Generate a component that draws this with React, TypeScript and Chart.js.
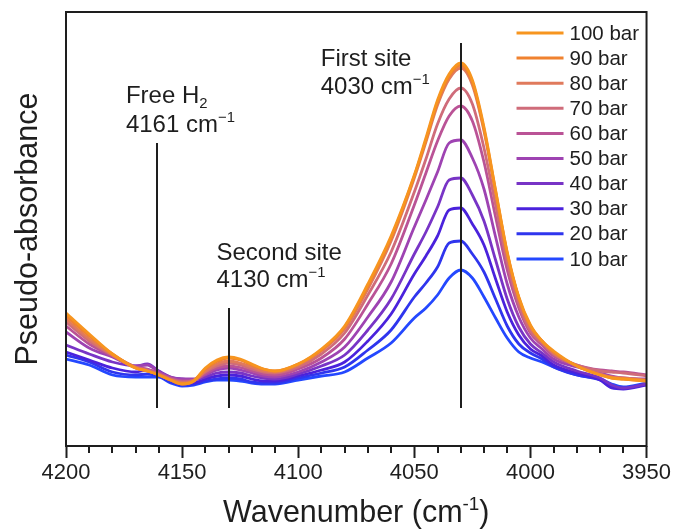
import { useEffect, useRef } from 'react';
import { Chart, registerables } from 'chart.js';

Chart.register(...registerables);

const FONT = "'Liberation Sans', Arial, Helvetica, sans-serif";
const INK = '#1e1e1e';

// Wavenumber grid (cm^-1)
const WAVENUMBERS = [4200, 4190, 4180, 4170, 4165, 4160, 4155, 4150, 4145, 4140, 4135, 4130, 4125, 4120, 4115, 4110, 4100, 4090, 4080, 4070, 4060, 4050, 4045, 4040, 4035, 4030, 4025, 4020, 4015, 4010, 4005, 4000, 3995, 3990, 3980, 3970, 3965, 3960, 3950];

const PRESSURE_LABELS = ['100 bar', '90 bar', '80 bar', '70 bar', '60 bar', '50 bar', '40 bar', '30 bar', '20 bar', '10 bar'];
const PRESSURE_COLORS = ['#F7951F', '#F0822F', '#E07A5C', '#CF6C7A', '#BA5396', '#9E43B2', '#7834C6', '#4A22DC', '#2F35EE', '#2448FF'];

// Pseudo-absorbance (arbitrary units)
const BAR100 = [133, 112, 92, 78, 75, 71, 66, 62, 65, 78, 86, 89, 87, 82, 77, 75, 82, 97, 120, 162, 210, 271, 308, 346, 372, 383, 366, 319, 256, 194, 149, 121, 105, 95, 80, 71, 68, 67, 65];
const BAR90 = [130, 110, 92, 78, 75, 71, 66, 62, 65, 77, 84.5, 88, 86, 81, 77, 75, 82, 96, 119, 160, 208, 270, 306, 344, 370, 381, 364, 317, 255, 193, 148, 120, 105, 94, 80, 71, 68, 67, 65];
const BAR80 = [127, 107, 91, 78, 75, 71, 66, 63, 65, 75, 82, 85, 83, 79, 75, 74, 81, 95, 117, 157, 205, 268, 304, 341, 367, 378, 361, 315, 253, 192, 148, 119, 105, 93, 80, 72, 69, 68, 66];
const BAR70 = [124, 105, 91, 79, 76, 72, 67, 64, 66, 74, 80, 83, 81, 77, 74, 73, 79, 92, 113, 151, 194, 254, 287, 322, 347, 358, 342, 298, 241, 184, 142, 115, 103, 92, 81, 75, 74, 73, 70];
const BAR60 = [120, 102, 90, 79, 77, 73, 68, 65, 66, 72, 78, 80, 78.5, 75, 72, 71, 77, 88, 107, 142, 182, 241, 273, 305, 330, 340, 325, 284, 229, 176, 138, 113, 101, 90, 81, 76, 75, 74, 71];
const BAR50 = [114, 98, 89, 80, 81, 74, 69, 67, 67, 71, 76, 78, 76, 73, 70, 69, 74, 84, 99, 129, 164, 219, 246, 274, 303, 306, 288, 257, 209, 162, 129, 108, 97, 87, 79, 73, 70, 68, 67];
const BAR40 = [101, 92, 84, 80, 82, 75, 69, 67, 66, 69, 73, 74, 73, 70, 68, 67, 72, 80, 91, 116, 147, 192, 214, 239, 266, 268, 251, 225, 186, 147, 119, 102, 93, 84, 75, 68, 61, 58, 62];
const BAR30 = [94, 86, 78, 74, 76, 72, 66, 63, 63, 67, 70, 71, 70, 67, 65, 65, 70, 76, 84, 105, 132, 172, 190, 210, 236, 238, 222, 201, 167, 134, 111, 97, 90, 81, 73, 66, 58, 57, 61];
const BAR20 = [91, 84, 74, 71, 72, 70, 64, 61, 62, 65, 67, 68, 67, 64, 63, 63, 68, 73, 79, 96, 116, 149, 163, 179, 203, 205, 192, 174, 147, 120, 102, 93, 87, 79, 71, 66, 59, 58, 62];
const BAR10 = [87, 81, 71, 69, 69, 69, 63, 60, 61, 64, 66, 66, 65, 63, 62, 62, 66, 70, 74, 88, 103, 128, 138, 151, 168, 176, 168, 149, 128, 108, 94, 88, 84, 79, 71, 67, 62, 59, 63];

const SERIES = [BAR100, BAR90, BAR80, BAR70, BAR60, BAR50, BAR40, BAR30, BAR20, BAR10];

const X_MIN = 3950;
const X_MAX = 4200;
const X_MAJOR_STEP = 50;
const X_MINOR_STEP = 10;
const Y_MIN = 0;
const Y_MAX = 434;

// Marker lines (wavenumber, top, bottom in data units)
const MARKER_WAVENUMBERS = [4161, 4130, 4030];
const MARKER_TOPS = [303, 138, 403];
const MARKER_BOTTOM = 38;

type Part = { text: string; kind?: 'sup' | 'sub' };
const NOTES: { wn: number; h: number; parts: Part[] }[] = [
  { wn: 4174.2, h: 343, parts: [{ text: 'Free H' }, { text: '2', kind: 'sub' }] },
  { wn: 4174.2, h: 314, parts: [{ text: '4161 cm' }, { text: '\u22121', kind: 'sup' }] },
  { wn: 4135.2, h: 186, parts: [{ text: 'Second site' }] },
  { wn: 4135.2, h: 159, parts: [{ text: '4130 cm' }, { text: '\u22121', kind: 'sup' }] },
  { wn: 4090.3, h: 380, parts: [{ text: 'First site' }] },
  { wn: 4090.3, h: 352, parts: [{ text: '4030 cm' }, { text: '\u22121', kind: 'sup' }] },
];

const X_TITLE: Part[] = [{ text: 'Wavenumber (cm' }, { text: '-1', kind: 'sup' }, { text: ')' }];
const Y_TITLE = 'Pseudo-absorbance';

function drawRich(ctx: CanvasRenderingContext2D, parts: Part[], x: number, y: number, size: number, align: 'left' | 'center') {
  const small = size * 0.62;
  const widths = parts.map((p) => {
    ctx.font = `${p.kind ? small : size}px ${FONT}`;
    return ctx.measureText(p.text).width;
  });
  const total = widths.reduce((a, b) => a + b, 0);
  let cx = align === 'center' ? x - total / 2 : x;
  parts.forEach((p, i) => {
    ctx.font = `${p.kind ? small : size}px ${FONT}`;
    const dy = p.kind === 'sup' ? -size * 0.4 : p.kind === 'sub' ? size * 0.2 : 0;
    ctx.fillText(p.text, cx, y + dy);
    cx += widths[i];
  });
}

const decorPlugin = {
  id: 'decor',
  afterDatasetsDraw(chart: any) {
    const { ctx, chartArea, scales } = chart;
    const xs = scales.x;
    const ys = scales.y;
    ctx.save();
    ctx.fillStyle = INK;
    ctx.strokeStyle = INK;
    ctx.textBaseline = 'alphabetic';
    ctx.textAlign = 'left';

    // marker lines
    ctx.lineWidth = 2;
    MARKER_WAVENUMBERS.forEach((wn, i) => {
      const px = Math.round(xs.getPixelForValue(wn));
      ctx.beginPath();
      ctx.moveTo(px, ys.getPixelForValue(MARKER_TOPS[i]));
      ctx.lineTo(px, ys.getPixelForValue(MARKER_BOTTOM));
      ctx.stroke();
    });

    // notes
    NOTES.forEach((n) => {
      drawRich(ctx, n.parts, xs.getPixelForValue(n.wn), ys.getPixelForValue(n.h), 24, 'left');
    });

    // legend
    const lx = chartArea.right - 130;
    const ly = chartArea.top + 21;
    chart.data.datasets.forEach((ds: any, i: number) => {
      const y = ly + i * 25.1;
      ctx.strokeStyle = ds.borderColor;
      ctx.lineWidth = 3;
      ctx.beginPath();
      ctx.moveTo(lx, y);
      ctx.lineTo(lx + 47, y);
      ctx.stroke();
      ctx.fillStyle = INK;
      ctx.font = `20.5px ${FONT}`;
      ctx.textBaseline = 'middle';
      ctx.fillText(ds.label, lx + 53, y + 1);
    });
    ctx.textBaseline = 'alphabetic';

    // minor ticks
    ctx.strokeStyle = INK;
    ctx.lineWidth = 2;
    for (let v = X_MIN; v <= X_MAX; v += X_MINOR_STEP) {
      if (v % X_MAJOR_STEP === 0) continue;
      const px = Math.round(xs.getPixelForValue(v));
      ctx.beginPath();
      ctx.moveTo(px, chartArea.bottom);
      ctx.lineTo(px, chartArea.bottom + 7);
      ctx.stroke();
    }

    // frame
    ctx.lineWidth = 2;
    ctx.strokeRect(chartArea.left, chartArea.top, chartArea.right - chartArea.left, chartArea.bottom - chartArea.top);

    // x title
    ctx.fillStyle = INK;
    drawRich(ctx, X_TITLE, (chartArea.left + chartArea.right) / 2, chartArea.bottom + 76, 30.5, 'center');
    ctx.restore();
  },
};

export default function App() {
  const ref = useRef<HTMLCanvasElement>(null);
  useEffect(() => {
    if (!ref.current) return;
    const chart = new Chart(ref.current, {
      type: 'line',
      data: {
        datasets: SERIES.map((vals, i) => ({
          label: PRESSURE_LABELS[i],
          data: vals.map((v, j) => ({ x: WAVENUMBERS[j], y: v })),
          borderColor: PRESSURE_COLORS[i],
          backgroundColor: PRESSURE_COLORS[i],
          borderWidth: 2.8,
          pointRadius: 0,
          fill: false,
          cubicInterpolationMode: 'monotone' as const,
        })),
      },
      options: {
        responsive: true,
        maintainAspectRatio: false,
        animation: false,
        layout: { padding: { top: 12, right: 26, left: 0, bottom: 0 } },
        plugins: { legend: { display: false }, tooltip: { enabled: false } },
        scales: {
          x: {
            type: 'linear',
            reverse: true,
            min: X_MIN,
            max: X_MAX,
            afterFit: (s: any) => { s.height = 83; },
            ticks: {
              stepSize: X_MAJOR_STEP,
              autoSkip: false,
              maxRotation: 0,
              padding: 2,
              color: INK,
              font: { family: FONT, size: 22 },
              callback: (v: any) => String(v),
            },
            grid: { display: true, drawOnChartArea: false, drawTicks: true, tickLength: 12, tickWidth: 2, tickColor: INK },
            border: { display: false },
          },
          y: {
            min: Y_MIN,
            max: Y_MAX,
            afterFit: (s: any) => { s.width = 66; },
            ticks: { display: false },
            grid: { display: false },
            border: { display: false },
            title: { display: true, text: Y_TITLE, color: INK, font: { family: FONT, size: 30.5 }, padding: { top: 10, bottom: 0 } },
          },
        },
      },
      plugins: [decorPlugin],
    } as any);
    return () => chart.destroy();
  }, []);
  return (
    <div style={{ position: 'absolute', left: 0, top: 0, width: 673, height: 529 }}>
      <canvas ref={ref} />
    </div>
  );
}
